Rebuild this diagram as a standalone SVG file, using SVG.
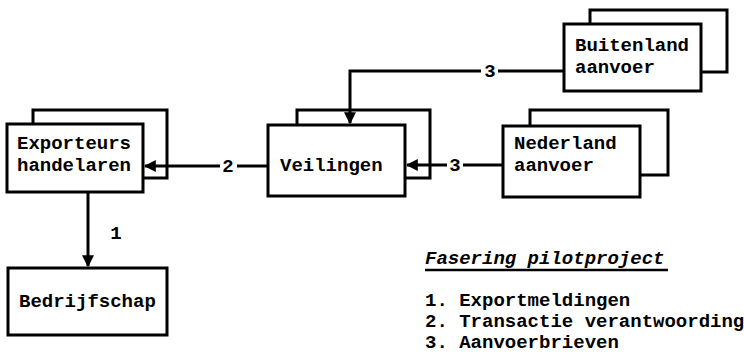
<svg xmlns="http://www.w3.org/2000/svg" width="744" height="354" viewBox="0 0 744 354">
<style>
.box{fill:#fff;stroke:#000;stroke-width:3}
.t{font-family:"Liberation Mono",monospace;font-weight:bold;font-size:19px;fill:#000}
.c{fill:none;stroke:#000;stroke-width:3}
.lb{font-family:"Liberation Mono",monospace;font-weight:bold;font-size:19px;fill:#000;text-anchor:middle}
</style>
<defs>
<marker id="ah" viewBox="0 0 10 10" refX="9" refY="5" markerWidth="4" markerHeight="4" orient="auto" markerUnits="strokeWidth">
<path d="M0,0 L10,5 L0,10 Z" fill="#000"/>
</marker>
</defs>
<rect width="744" height="354" fill="#fff"/>
<g id="exporteurs">
<rect class="box" x="33" y="110" width="134" height="68"/>
<rect class="box" x="7" y="124" width="136" height="68"/>
<text class="t" x="17" y="149">Exporteurs</text>
<text class="t" x="17" y="171">handelaren</text>
</g>
<g id="bedrijfschap">
<rect class="box" x="8" y="268" width="159" height="67"/>
<text class="t" x="19" y="307">Bedrijfschap</text>
</g>
<g id="veilingen">
<rect class="box" x="297" y="110" width="133" height="68"/>
<rect class="box" x="268" y="125" width="137" height="71"/>
<text class="t" x="280" y="171">Veilingen</text>
</g>
<g id="buitenland">
<rect class="box" x="590" y="10" width="137" height="62"/>
<rect class="box" x="564" y="24" width="137" height="67"/>
<text class="t" x="575" y="51">Buitenland</text>
<text class="t" x="575" y="73">aanvoer</text>
</g>
<g id="nederland">
<rect class="box" x="530" y="110" width="138" height="65"/>
<rect class="box" x="503" y="126" width="137" height="71"/>
<text class="t" x="514" y="149">Nederland</text>
<text class="t" x="514" y="171">aanvoer</text>
</g>
<g id="connectors">
<path class="c" d="M88,192 V266" marker-end="url(#ah)"/>
<text class="lb" x="116" y="239">1</text>
<path class="c" d="M268,166 H237"/>
<path class="c" d="M220,166 H145" marker-end="url(#ah)"/>
<text class="lb" x="228" y="172">2</text>
<path class="c" d="M503,165 H463"/>
<path class="c" d="M447,165 H407" marker-end="url(#ah)"/>
<text class="lb" x="455" y="171">3</text>
<path class="c" d="M564,71 H498"/>
<path class="c" d="M481,71 H350 V123" marker-end="url(#ah)"/>
<text class="lb" x="490" y="77">3</text>
</g>
<g id="legend">
<text class="t" x="425" y="264" font-style="italic">Fasering pilotproject</text>
<line x1="425" y1="270" x2="668" y2="270" stroke="#000" stroke-width="2.5"/>
<text class="t" x="425" y="306">1. Exportmeldingen</text>
<text class="t" x="425" y="327">2. Transactie verantwoording</text>
<text class="t" x="425" y="348">3. Aanvoerbrieven</text>
</g>
</svg>
